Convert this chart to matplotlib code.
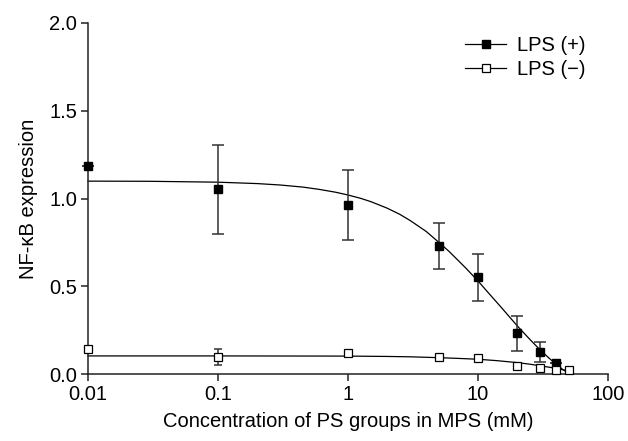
import matplotlib
matplotlib.use("Agg")
import matplotlib.pyplot as plt

plt.rcParams['font.family'] = ['Liberation Sans', 'DejaVu Sans']

# measured data points
conc_pos = [0.01, 0.1, 1, 5, 10, 20, 30, 40]
nfkb_pos = [1.185, 1.052, 0.965, 0.731, 0.550, 0.232, 0.125, 0.062]
err_pos = [0.0, 0.255, 0.20, 0.13, 0.136, 0.10, 0.058, 0.0]

conc_neg = [0.01, 0.1, 1, 5, 10, 20, 30, 40, 50]
nfkb_neg = [0.144, 0.097, 0.118, 0.097, 0.089, 0.046, 0.033, 0.020, 0.023]
err_neg = [0.0, 0.047, 0.0, 0.0, 0.0, 0.0, 0.0, 0.0, 0.0]

# fitted curves
fit_x_pos = [0.01, 0.03, 0.1, 0.2, 0.3, 0.45, 0.6, 0.8, 1, 1.25, 1.5, 2, 2.5,
             3, 4, 5, 6, 8, 10, 12, 15, 20, 25, 30, 35, 40, 45, 50]
fit_y_pos = [1.099, 1.098, 1.093, 1.085, 1.077, 1.065, 1.052, 1.036, 1.020,
             1.001, 0.982, 0.945, 0.910, 0.875, 0.812, 0.750, 0.698, 0.606,
             0.530, 0.463, 0.382, 0.275, 0.198, 0.138, 0.092, 0.055, 0.025,
             0.003]
fit_x_neg = [0.01, 0.1, 1, 2, 3, 5, 7, 10, 14, 20, 25, 30, 35, 40, 45, 50]
fit_y_neg = [0.103, 0.103, 0.102, 0.100, 0.098, 0.093, 0.089, 0.084, 0.076,
             0.065, 0.056, 0.047, 0.039, 0.032, 0.024, 0.017]

xticks = [0.01, 0.1, 1, 10, 100]
xticklabels = ['0.01', '0.1', '1', '10', '100']
yticks = [0.0, 0.5, 1.0, 1.5, 2.0]
yticklabels = ['0.0', '0.5', '1.0', '1.5', '2.0']

fig = plt.figure(figsize=(6.28, 4.41), dpi=100)
ax = fig.add_axes([88/628, 1-374/441, 520/628, 351/441])

ax.plot(fit_x_pos, fit_y_pos, color='black', lw=0.9, clip_on=False, zorder=2)
ax.plot(fit_x_neg, fit_y_neg, color='black', lw=0.9, clip_on=False, zorder=2)

ax.errorbar(conc_pos, nfkb_pos, yerr=err_pos, fmt='none', ecolor='#333333',
            elinewidth=1.1, capsize=4, capthick=1.1, clip_on=False, zorder=3)
ax.errorbar(conc_neg, nfkb_neg, yerr=err_neg, fmt='none', ecolor='#333333',
            elinewidth=1.1, capsize=3, capthick=1.1, clip_on=False, zorder=3)

ax.plot(conc_pos, nfkb_pos, ls='none', marker='s', ms=5.2, mfc='black',
        mec='black', clip_on=False, zorder=4)
ax.plot(conc_neg, nfkb_neg, ls='none', marker='s', ms=5.2, mfc='white',
        mec='black', mew=0.9, clip_on=False, zorder=4)

# legend proxies
h1, = ax.plot([], [], color='black', lw=0.9, marker='s', ms=5.2, mfc='black', mec='black')
h2, = ax.plot([], [], color='black', lw=0.9, marker='s', ms=5.2, mfc='white', mec='black', mew=0.9)
ax.legend([h1, h2], ['LPS (+)', 'LPS (\u2212)'], loc='upper left',
          bbox_to_anchor=(465/628, 1-36/441), bbox_transform=fig.transFigure,
          frameon=False, fontsize=14.5, handlelength=2.05, handletextpad=0.55,
          labelspacing=0.25, borderpad=0, borderaxespad=0)

ax.set_xscale('log')
ax.set_xlim(0.01, 100)
ax.set_ylim(0, 2.0)
ax.set_xticks(xticks)
ax.set_xticklabels(xticklabels)
ax.minorticks_off()
ax.set_yticks(yticks)
ax.set_yticklabels(yticklabels)

for s in ['top', 'right']:
    ax.spines[s].set_visible(False)
for s in ['left', 'bottom']:
    ax.spines[s].set_linewidth(1.1)
    ax.spines[s].set_color('#222222')
ax.tick_params(direction='out', length=5, width=1.1, color='#222222',
               labelsize=14.5, pad=3)

ax.set_xlabel('Concentration of PS groups in MPS (mM)', fontsize=14.5, labelpad=6)
ax.set_ylabel('NF-\u03baB expression', fontsize=14.5, labelpad=8)

fig.savefig('out.png', dpi=100)
